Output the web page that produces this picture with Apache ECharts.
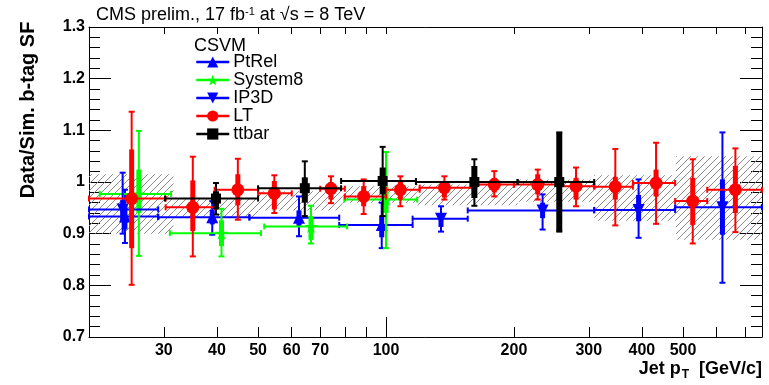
<!DOCTYPE html>
<html><head><meta charset="utf-8">
<script src="https://cdn.jsdelivr.net/npm/echarts@6/dist/echarts.min.js"></script>
<style>html,body{margin:0;padding:0;background:#fff}#c{width:769px;height:385px}</style>
</head><body><div id="c"></div>
<script>
// ---- axis ticks ----
const xTickValues = [20,30,40,50,60,70,80,90,100,200,300,400,500,600,700];
const xLabelValues = [30,40,50,60,70,100,200,300,400,500];
const xMajorTick = [100];

// ---- PtRel ----
const ptrelX = [24.3, 39.0, 62.4, 97.7];
const ptrelY = [0.933, 0.932, 0.931, 0.917];
const ptrelXLo = [20, 29.1, 47.7, 77.6];
const ptrelXHi = [29.1, 47.7, 77.6, 115.5];
const ptrelStat = [[0.908,0.956],[0.918,0.946],[0.915,0.945],[0.893,0.935]];
const ptrelTot = [[0.882,0.985],[0.898,0.963],[0.895,0.972],[0.872,0.960]];

// ---- System8 ----
const sys8X = [26.2, 41.0, 66.6, 100.0];
const sys8Y = [0.977, 0.901, 0.914, 0.966];
const sys8XLo = [21.2, 31.0, 51.7, 79.8];
const sys8XHi = [31.2, 50.8, 81.0, 118.4];
const sys8Stat = [[0.940,1.024],[0.876,0.926],[0.888,0.934],[0.940,0.990]];
const sys8Tot = [[0.857,1.099],[0.856,0.948],[0.881,0.954],[0.872,1.058]];

// ---- IP3D ----
const ip3dX = [24.0, 134.7, 233.6, 393, 619];
const ip3dY = [0.947, 0.929, 0.945, 0.946, 0.951];
const ip3dXLo = [20, 115.5, 155.7, 309, 479];
const ip3dXHi = [29.1, 155.7, 309, 479, 767];
const ip3dStat = [[0.925,0.965],[0.913,0.938],[0.930,0.960],[0.924,0.975],[0.898,1.005]];
const ip3dTot = [[0.900,1.018],[0.904,0.953],[0.908,0.976],[0.892,1.005],[0.805,1.096]];

// ---- LT ----
const ltX = [25.2, 35.1, 44.8, 54.6, 74.2, 88.6, 108.1, 137.2, 179.8, 227.5, 280, 346.4, 432, 527, 664];
const ltY = [0.968, 0.951, 0.985, 0.978, 0.987, 0.972, 0.985, 0.989, 0.995, 0.995, 0.992, 0.991, 0.998, 0.963, 0.985];
const ltXLo = [20, 30.3, 39.5, 50, 70, 80, 100, 120, 160, 200, 255, 309, 381, 479, 570];
const ltXHi = [30.3, 39.5, 50, 60, 80, 100, 120, 160, 200, 255, 309, 381, 479, 570, 767];
const ltStat = [[0.872,1.063],[0.905,1.003],[0.955,1.015],[0.947,1.002],[0.966,1.000],[0.953,0.992],[0.966,1.002],[0.970,1.002],[0.980,1.008],[0.976,1.015],[0.966,1.008],[0.966,1.010],[0.972,1.024],[0.917,1.008],[0.940,1.031]];
const ltTot = [[0.801,1.136],[0.856,1.049],[0.927,1.045],[0.940,1.013],[0.959,1.011],[0.938,1.005],[0.953,1.011],[0.966,1.011],[0.972,1.021],[0.966,1.024],[0.953,1.028],[0.916,1.064],[0.919,1.076],[0.881,1.044],[0.903,1.065]];

// ---- ttbar ----
const ttX = [39.8, 64.4, 98.2, 161.4, 255.7];
const ttY = [0.968, 0.988, 1.002, 1.000, 1.000];
const ttXLo = [30.2, 50, 78.4, 117.6, 204];
const ttXHi = [50, 78.4, 117.6, 204, 309];
const ttStat = [[0.947,0.982],[0.960,1.009],[0.976,1.028],[0.969,1.031],[0.904,1.096]];
const ttTot = [[0.937,0.998],[0.934,1.040],[0.934,1.068],[0.954,1.044],[0.904,1.096]];

// ---- hatched band ----
const bandXLo = [20, 31.6, 50, 79, 118, 204, 309, 481];
const bandXHi = [31.6, 50, 79, 118, 204, 309, 481, 767];
const bandLo = [0.900, 0.930, 0.945, 0.960, 0.955, 0.962, 0.925, 0.888];
const bandHi = [1.015, 0.967, 0.982, 0.992, 0.995, 1.005, 1.013, 1.050];

const FONT = "'Liberation Sans', Arial, sans-serif";

// hatch pattern
const hatch = document.createElement('canvas');
hatch.width = 7; hatch.height = 7;
(function(){
  const g = hatch.getContext('2d');
  g.strokeStyle = '#8a8a8a'; g.lineWidth = 1;
  g.beginPath();
  g.moveTo(0,7); g.lineTo(7,0);
  g.moveTo(-1,1); g.lineTo(1,-1);
  g.moveTo(6,8); g.lineTo(8,6);
  g.stroke();
})();

function errData(X, Y, XL, XH, S, T) {
  return X.map((x, i) => [x, Y[i], XL[i], XH[i], S[i][0], S[i][1], T[i][0], T[i][1]]);
}
function ptData(X, Y) { return X.map((x, i) => [x, Y[i]]); }

function errSeries(color, data, z, thick) {
  return {
    type: 'custom', z: z, silent: true, animation: false,
    xAxisIndex: 0, yAxisIndex: 0,
    data: data,
    encode: { x: [0, 2, 3], y: [1, 4, 5, 6, 7] },
    renderItem: function (params, api) {
      const x = api.value(0), y = api.value(1);
      const pL = api.coord([api.value(2), y]);
      const pH = api.coord([api.value(3), y]);
      const sL = api.coord([x, api.value(4)]);
      const sH = api.coord([x, api.value(5)]);
      const tL = api.coord([x, api.value(6)]);
      const tH = api.coord([x, api.value(7)]);
      const st = { stroke: color, lineWidth: 2 };
      const cap = 3;
      const ch = [
        { type: 'line', shape: { x1: pL[0], y1: pL[1], x2: pH[0], y2: pH[1] }, style: st },
        { type: 'line', shape: { x1: pL[0], y1: pL[1] - cap, x2: pL[0], y2: pL[1] + cap }, style: st },
        { type: 'line', shape: { x1: pH[0], y1: pH[1] - cap, x2: pH[0], y2: pH[1] + cap }, style: st },
        { type: 'line', shape: { x1: tL[0], y1: tL[1], x2: tH[0], y2: tH[1] }, style: st },
        { type: 'line', shape: { x1: tL[0] - cap, y1: tL[1], x2: tL[0] + cap, y2: tL[1] }, style: st },
        { type: 'line', shape: { x1: tH[0] - cap, y1: tH[1], x2: tH[0] + cap, y2: tH[1] }, style: st },
        { type: 'line', shape: { x1: sL[0], y1: sL[1], x2: sH[0], y2: sH[1] }, style: { stroke: color, lineWidth: thick } }
      ];
      return { type: 'group', children: ch };
    }
  };
}

function markSeries(name, color, symbol, size, data, z, rot) {
  return {
    type: 'line', name: name, z: z, silent: true, animation: false,
    xAxisIndex: 0, yAxisIndex: 0,
    data: data, symbol: symbol, symbolSize: size, symbolRotate: rot || 0,
    showSymbol: true, color: color,
    itemStyle: { color: color, opacity: 1 },
    lineStyle: { opacity: 0, width: 0 },
    emphasis: { disabled: true }
  };
}

const STAR = 'path://M50,0 L61,35 L98,35 L68,57 L79,91 L50,70 L21,91 L32,57 L2,35 L39,35 Z';

const bandData = bandXLo.map((x, i) => [x, bandXHi[i], bandLo[i], bandHi[i]]);

const chart = echarts.init(document.getElementById('c'), null, { renderer: 'canvas' });
const xBase = { type: 'log', logBase: 10, min: 20, max: 767, splitLine: { show: false } };
const tickStyle = { color: '#000', width: 1 };

chart.setOption({
  animation: false,
  backgroundColor: '#fff',
  textStyle: { fontFamily: FONT },
  title: [
    { text: 'CMS prelim., 17 fb{sup|-1} at √s = 8 TeV', left: 96, top: 6, padding: 0,
      textStyle: { fontFamily: FONT, fontSize: 18, fontWeight: 'normal', color: '#000',
        rich: { sup: { fontFamily: FONT, fontSize: 11, color: '#000', padding: [0, 0, 8, 0] } } } },
    { text: 'CSVM', left: 194, top: 37, padding: 0,
      textStyle: { fontFamily: FONT, fontSize: 18, fontWeight: 'normal', color: '#000' } }
  ],
  legend: {
    orient: 'vertical', left: 195, top: 53, padding: 0,
    itemWidth: 33, itemHeight: 14, itemGap: 0,
    selectedMode: false,
    textStyle: { fontFamily: FONT, fontSize: 18, color: '#000', padding: [0, 0, 0, -1] },
    lineStyle: { opacity: 1, width: 2.5 },
    data: ['PtRel', 'System8', 'IP3D', 'LT', 'ttbar']
  },
  grid: { left: 89, right: 7, top: 27, bottom: 48, containLabel: false },
  xAxis: [
    Object.assign({}, xBase, {
      position: 'bottom',
      axisLine: { show: true, lineStyle: tickStyle },
      axisTick: { show: true, inside: true, length: 10, lineStyle: tickStyle, customValues: xTickValues },
      minorTick: { show: false },
      axisLabel: { show: true, customValues: xLabelValues, margin: 6, fontFamily: FONT, fontSize: 16, fontWeight: 'bold', color: '#000' },
      name: 'Jet p{sub|T} [GeV/c]', nameLocation: 'end', nameGap: 0,
      nameTextStyle: { fontFamily: FONT, fontSize: 18, fontWeight: 'bold', color: '#000', align: 'right', verticalAlign: 'top', padding: [21, 0, 0, 0],
        rich: { sub: { fontFamily: FONT, fontSize: 12, fontWeight: 'bold', color: '#000', padding: [11, 5, 0, 1] } } }
    }),
    Object.assign({}, xBase, {
      position: 'bottom',
      axisLine: { show: false },
      axisTick: { show: true, inside: true, length: 20, lineStyle: tickStyle, customValues: xMajorTick },
      axisLabel: { show: false }
    }),
    Object.assign({}, xBase, {
      position: 'top',
      axisLine: { show: true, lineStyle: tickStyle },
      axisTick: { show: true, inside: true, length: 7, lineStyle: tickStyle, customValues: xTickValues },
      axisLabel: { show: false }
    })
  ],
  yAxis: [
    {
      type: 'value', min: 0.7, max: 1.3, interval: 0.1, position: 'left',
      splitLine: { show: false },
      axisLine: { show: true, lineStyle: tickStyle },
      axisTick: { show: true, inside: true, length: 22, lineStyle: tickStyle },
      minorTick: { show: true, splitNumber: 5, length: 11, lineStyle: tickStyle },
      axisLabel: { margin: 4, fontFamily: FONT, fontSize: 16, fontWeight: 'bold', color: '#000' },
      name: 'Data/Sim. b-tag SF', nameLocation: 'middle', nameGap: 51,
      nameTextStyle: { fontFamily: FONT, fontSize: 20, fontWeight: 'bold', color: '#000', padding: [0, 0, 0, 144] }
    },
    {
      type: 'value', min: 0.7, max: 1.3, interval: 0.1, position: 'right',
      splitLine: { show: false },
      axisLine: { show: true, lineStyle: tickStyle },
      axisTick: { show: true, inside: true, length: 22, lineStyle: tickStyle },
      minorTick: { show: true, splitNumber: 5, length: 11, lineStyle: tickStyle },
      axisLabel: { show: false }
    }
  ],
  series: [
    {
      type: 'custom', z: 1, silent: true, animation: false, xAxisIndex: 0, yAxisIndex: 0,
      data: bandData, encode: { x: [0, 1], y: [2, 3] },
      renderItem: function (params, api) {
        const a = api.coord([api.value(0), api.value(3)]);
        const b = api.coord([api.value(1), api.value(2)]);
        return { type: 'rect', shape: { x: a[0], y: a[1], width: b[0] - a[0], height: b[1] - a[1] },
          style: { fill: { image: hatch, repeat: 'repeat' }, stroke: null } };
      }
    },
    errSeries('#0000ff', errData(ptrelX, ptrelY, ptrelXLo, ptrelXHi, ptrelStat, ptrelTot), 2, 5),
    markSeries('PtRel', '#0000ff', 'triangle', 12, ptData(ptrelX, ptrelY), 3),
    errSeries('#00ff00', errData(sys8X, sys8Y, sys8XLo, sys8XHi, sys8Stat, sys8Tot), 4, 5),
    markSeries('System8', '#00ff00', STAR, 13, ptData(sys8X, sys8Y), 5),
    errSeries('#0000ff', errData(ip3dX, ip3dY, ip3dXLo, ip3dXHi, ip3dStat, ip3dTot), 6, 5),
    markSeries('IP3D', '#0000ff', 'triangle', 12, ptData(ip3dX, ip3dY), 7, 180),
    errSeries('#ff0000', errData(ltX, ltY, ltXLo, ltXHi, ltStat, ltTot), 8, 5),
    markSeries('LT', '#ff0000', 'circle', 13, ptData(ltX, ltY), 9),
    errSeries('#000000', errData(ttX, ttY, ttXLo, ttXHi, ttStat, ttTot), 10, 6),
    markSeries('ttbar', '#000000', 'rect', 10, ptData(ttX, ttY), 11)
  ]
});
</script>
</body></html>
